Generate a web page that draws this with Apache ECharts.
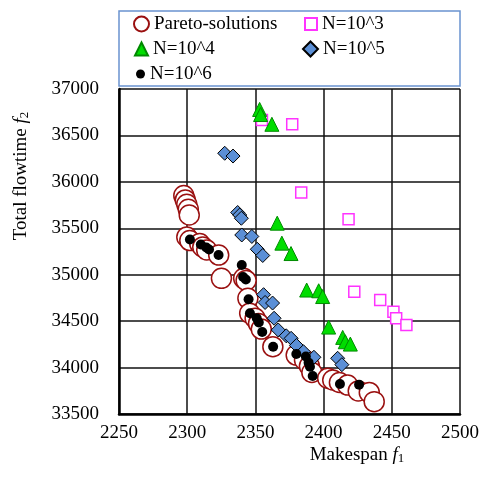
<!DOCTYPE html>
<html>
<head>
<meta charset="utf-8">
<script src="https://cdn.jsdelivr.net/npm/echarts@6/dist/echarts.min.js"></script>
<style>
html,body{margin:0;padding:0;background:#fff;}
#c{width:482px;height:477px;}
</style>
</head>
<body>
<div id="c"></div>
<script>
const seriesNames = ['Pareto-solutions', 'N=10^3', 'N=10^4', 'N=10^5', 'N=10^6'];
const xMin = 2250, xMax = 2500, xStep = 50;
const yMin = 33500, yMax = 37000, yStep = 500;

const paretoPoints = [
  [2297.5,35853],[2298.6,35805],[2299.7,35758],[2300.8,35705],[2301.5,35643],
  [2299.7,35406],[2301.9,35368],[2309.2,35336],[2311.4,35299],[2314.3,35266],
  [2323.1,35212],[2325.1,34961],[2341.4,34961],[2343.2,34938],[2344.5,34746],
  [2345.8,34585],[2349.8,34531],[2352.3,34475],[2354.3,34415],[2362.8,34225],
  [2379.9,34135],[2386,34082],[2389.6,34017],[2391.4,33947],[2403,33885],
  [2406.7,33866],[2411.6,33839],[2417.6,33812],[2425.4,33748],[2433.5,33732],
  [2437.1,33633]
];
const n3Points = [
  [2354.8,36666],[2377,36620],[2383.6,35885],[2418.3,35597],[2422.5,34817],
  [2441.5,34728],[2451.2,34602],[2453.2,34531],[2460.7,34459]
];
const n4Points = [
  [2353.1,36780],[2353.8,36725],[2362.1,36620],[2366,35555],[2369.4,35340],
  [2376.1,35228],[2387.6,34835],[2396.4,34827],[2399.3,34765],[2403.7,34436],
  [2414,34325],[2415.9,34278],[2419.6,34253]
];
const n5Points = [
  [2327.5,36308],[2333.6,36278],[2337,35670],[2338.5,35643],[2339.7,35608],
  [2340,35428],[2347.4,35412],[2351.4,35274],[2355.4,35207],[2356,34785],
  [2357.1,34701],[2362.6,34695],[2363.7,34531],[2366.7,34405],[2372.6,34342],
  [2376.2,34315],[2380.1,34238],[2385.2,34171],[2392.9,34111],[2410.3,34100],
  [2413.4,34031]
];
const n6Points = [
  [2302,35379],[2310,35325],[2314,35293],[2316,35272],[2323,35212],
  [2340,35105],[2341,34975],[2343,34948],[2345,34735],[2346,34585],
  [2351,34531],[2352.5,34485],[2355,34383],[2363,34225],[2380,34146],
  [2387,34119],[2389,34053],[2390,34009],[2392,33909],[2412,33823],
  [2426,33816]
];

const FONT = 'Liberation Serif';
const chart = echarts.init(document.getElementById('c'), null, {renderer: 'canvas'});

function lg(name, left, centerY, size) {
  return {
    data: [name], orient: 'vertical', left: left, top: centerY - 10, padding: 0,
    itemWidth: size, itemHeight: size, itemGap: 0, selectedMode: false,
    textStyle: {fontFamily: FONT, fontSize: 19, color: '#000', lineHeight: 20}
  };
}

chart.setOption({
  animation: false,
  backgroundColor: '#fff',
  grid: {left: 119, top: 89, width: 342, height: 325},
  legend: [
    lg(seriesNames[0], 133, 24, 15),
    lg(seriesNames[2], 134, 49, 13),
    lg(seriesNames[4], 136, 74, 9),
    lg(seriesNames[1], 304, 24, 12),
    lg(seriesNames[3], 302, 49, 15)
  ],
  graphic: [
    {type: 'rect', z: -1, shape: {x: 119, y: 11, width: 341, height: 75},
     style: {fill: 'none', stroke: '#6a93cf', lineWidth: 1.5}},
    {type: 'text', x: 21, y: 176, rotation: Math.PI / 2,
     style: {text: 'Total flowtime {i|f}{s|2}', align: 'center', verticalAlign: 'middle',
       fontFamily: FONT, fontSize: 19, fill: '#000',
       rich: {i: {fontFamily: FONT, fontStyle: 'italic', fontSize: 19}, s: {fontFamily: FONT, fontSize: 13, padding: [8,0,0,0]}}}},
    {type: 'text', x: 357, y: 455,
     style: {text: 'Makespan {i|f}{s|1}', align: 'center', verticalAlign: 'middle',
       fontFamily: FONT, fontSize: 19, fill: '#000',
       rich: {i: {fontFamily: FONT, fontStyle: 'italic', fontSize: 19}, s: {fontFamily: FONT, fontSize: 13, padding: [8,0,0,0]}}}}
  ],
  xAxis: {
    type: 'value', min: xMin, max: xMax, interval: xStep,
    axisLine: {show: true, onZero: false, lineStyle: {color: '#000', width: 2.5}},
    axisTick: {show: false},
    splitLine: {show: true, lineStyle: {color: '#111', width: 1.5}},
    axisLabel: {fontFamily: FONT, fontSize: 19, color: '#000', margin: 10, formatter: v => String(v)}
  },
  yAxis: {
    type: 'value', min: yMin, max: yMax, interval: yStep,
    axisLine: {show: true, onZero: false, lineStyle: {color: '#000', width: 2.5}},
    axisTick: {show: false},
    splitLine: {show: true, lineStyle: {color: '#111', width: 1.5}},
    axisLabel: {fontFamily: FONT, fontSize: 19, color: '#000', margin: 20, formatter: v => String(v)}
  },
  series: [
    {name: seriesNames[0], type: 'scatter', data: paretoPoints, symbol: 'circle', symbolSize: 20,
     itemStyle: {color: '#fff', borderColor: '#9a1010', borderWidth: 1.5, opacity: 1}},
    {name: seriesNames[1], type: 'scatter', data: n3Points, symbol: 'rect', symbolSize: 11,
     itemStyle: {color: '#fff', borderColor: '#ff33ff', borderWidth: 1.5, opacity: 1}},
    {name: seriesNames[2], type: 'scatter', data: n4Points, symbol: 'triangle', symbolSize: 14,
     itemStyle: {color: '#00dd00', borderColor: '#008a00', borderWidth: 1, opacity: 1}},
    {name: seriesNames[3], type: 'scatter', data: n5Points, symbol: 'diamond', symbolSize: 14,
     itemStyle: {color: '#5b8fd6', borderColor: '#000', borderWidth: 1, opacity: 1}},
    {name: seriesNames[4], type: 'scatter', data: n6Points, symbol: 'circle', symbolSize: 10,
     itemStyle: {color: '#000', borderColor: '#000', borderWidth: 0, opacity: 1}}
  ]
});
</script>
</body>
</html>
